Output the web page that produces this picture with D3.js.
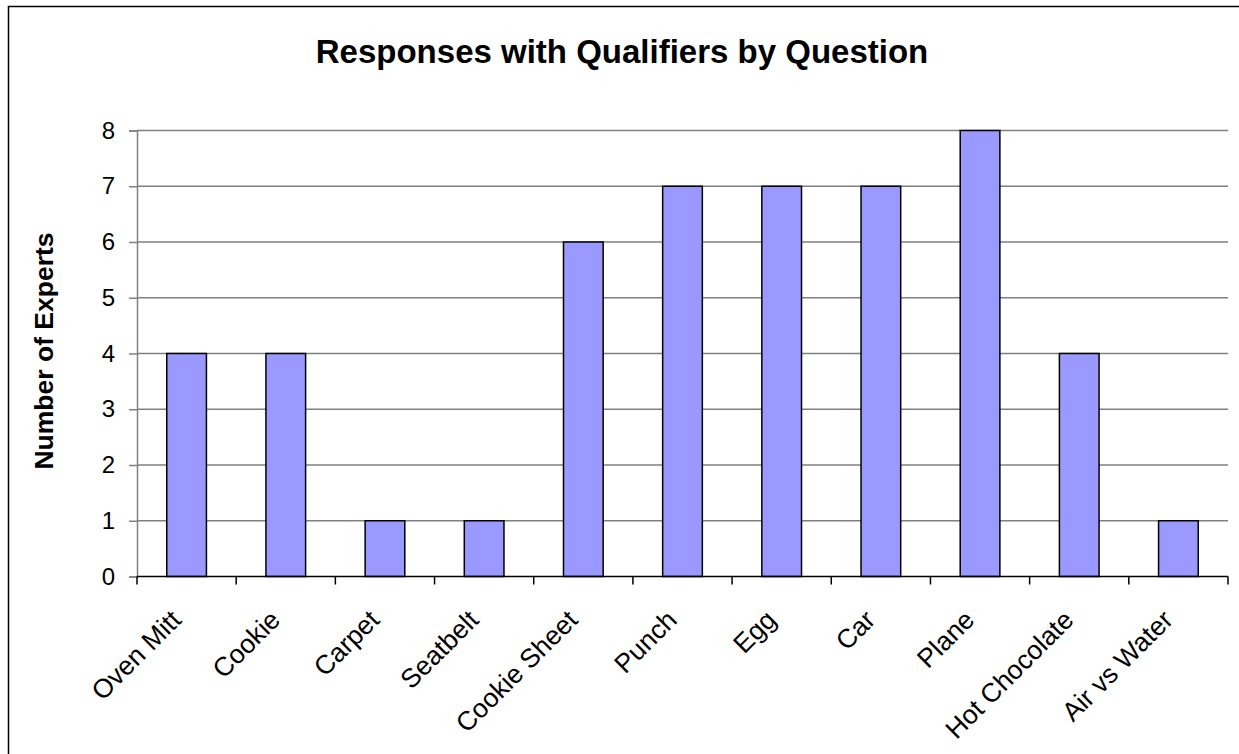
<!DOCTYPE html>
<html>
<head>
<meta charset="utf-8">
<script src="https://cdn.jsdelivr.net/npm/d3@7"></script>
<style>
  body { margin: 0; background: #fff; }
  svg { display: block; font-family: "Liberation Sans", Arial, sans-serif; }
</style>
</head>
<body>
<script>
// chart data
var questions = ["Oven Mitt", "Cookie", "Carpet", "Seatbelt", "Cookie Sheet", "Punch", "Egg", "Car", "Plane", "Hot Chocolate", "Air vs Water"];
var experts = [4, 4, 1, 1, 6, 7, 7, 7, 8, 4, 1];
var yTicks = [0, 1, 2, 3, 4, 5, 6, 7, 8];

var svgWidth = 1239;
var svgHeight = 754;

// plot area
var margin = { top: 130.5, right: 11, bottom: 177.5, left: 137 };
var chartWidth = svgWidth - margin.left - margin.right;
var chartHeight = svgHeight - margin.top - margin.bottom;

var svg = d3.select("body")
  .append("svg")
  .attr("width", svgWidth)
  .attr("height", svgHeight);

// outer frame
svg.append("rect")
  .attr("x", 8.5)
  .attr("y", 6.5)
  .attr("width", 1300)
  .attr("height", 1000)
  .attr("fill", "white")
  .attr("stroke", "black")
  .attr("stroke-width", 1.5);

svg.append("text")
  .attr("x", 622)
  .attr("y", 63)
  .attr("text-anchor", "middle")
  .attr("font-size", 33)
  .attr("font-weight", "bold")
  .text("Responses with Qualifiers by Question");

var g = svg.append("g")
  .attr("transform", `translate(${margin.left}, ${margin.top})`);

var x = d3.scaleBand()
  .domain(questions)
  .range([0, chartWidth])
  .paddingInner(0.6)
  .paddingOuter(0.3);

var xBand = d3.scaleBand()
  .domain(questions)
  .range([0, chartWidth]);

var y = d3.scaleLinear()
  .domain([0, 8])
  .range([chartHeight, 0]);

// gridlines
g.append("g")
  .selectAll("line")
  .data(yTicks.filter(d => d > 0))
  .enter()
  .append("line")
  .attr("x1", 0)
  .attr("x2", chartWidth)
  .attr("y1", d => y(d))
  .attr("y2", d => y(d))
  .attr("stroke", "#808080")
  .attr("stroke-width", 1.5);

// y axis
var leftAxis = d3.axisLeft(y)
  .tickValues(yTicks)
  .tickSize(8)
  .tickPadding(14)
  .tickFormat(d3.format("d"));

var yAxis = g.append("g").call(leftAxis);
yAxis.select(".domain").attr("stroke", "#808080").attr("stroke-width", 1.5);
yAxis.selectAll(".tick line").attr("stroke", "#808080").attr("stroke-width", 1.5);
yAxis.selectAll("text")
  .attr("font-size", 24)
  .attr("font-family", "Liberation Sans, Arial, sans-serif")
  .attr("fill", "black");

// bars
g.selectAll(".bar")
  .data(experts)
  .enter()
  .append("rect")
  .attr("class", "bar")
  .attr("x", (d, i) => x(questions[i]))
  .attr("y", d => y(d))
  .attr("width", x.bandwidth())
  .attr("height", d => chartHeight - y(d))
  .attr("fill", "#9999ff")
  .attr("stroke", "black")
  .attr("stroke-width", 1.5);

// x axis with ticks between categories
var bottomAxis = g.append("g")
  .attr("transform", `translate(0, ${chartHeight})`);

bottomAxis.append("line")
  .attr("x1", 0)
  .attr("x2", chartWidth)
  .attr("stroke", "black")
  .attr("stroke-width", 1.5);

var edges = [0].concat(questions.map(q => xBand(q) + xBand.bandwidth()));
bottomAxis.selectAll(".xtick")
  .data(edges)
  .enter()
  .append("line")
  .attr("class", "xtick")
  .attr("x1", d => d)
  .attr("x2", d => d)
  .attr("y1", 0)
  .attr("y2", 8)
  .attr("stroke", "black")
  .attr("stroke-width", 1.5);

bottomAxis.selectAll(".xlabel")
  .data(questions)
  .enter()
  .append("text")
  .attr("class", "xlabel")
  .attr("text-anchor", "end")
  .attr("font-size", 26.5)
  .attr("transform", d => `translate(${xBand(d) + xBand.bandwidth() / 2 - 4}, 45) rotate(-45)`)
  .text(d => d);

// y axis title
svg.append("text")
  .attr("transform", "translate(53, 351) rotate(-90)")
  .attr("text-anchor", "middle")
  .attr("font-size", 26.5)
  .attr("font-weight", "bold")
  .text("Number of Experts");
</script>
</body>
</html>
